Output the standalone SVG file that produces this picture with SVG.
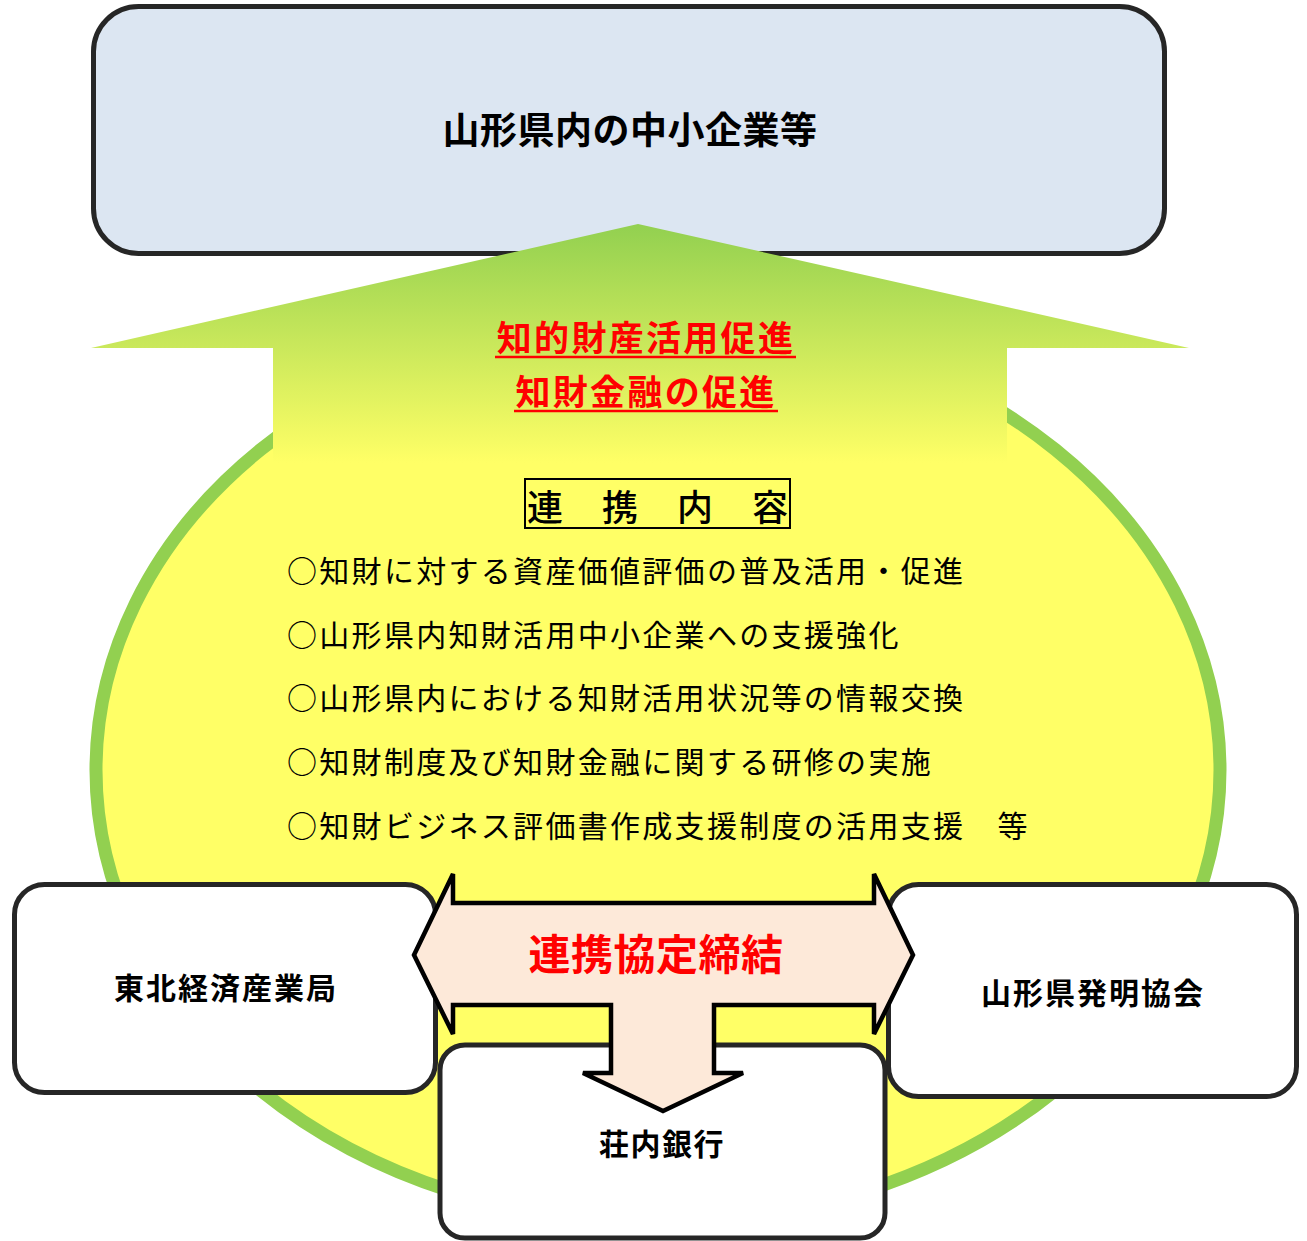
<svg xmlns="http://www.w3.org/2000/svg" width="1307" height="1241" viewBox="0 0 1307 1241">
<style>
.box{fill:#FFFFFF;stroke:#262626;stroke-width:5}
.lbl{font-family:"Noto Sans CJK JP","Noto Sans CJK SC",sans-serif;font-weight:bold;fill:#000000;text-anchor:middle}
.red{font-family:"Noto Sans CJK JP","Noto Sans CJK SC",sans-serif;font-weight:bold;fill:#FF0000;text-anchor:middle}
.item{font-family:"Noto Sans CJK JP","Noto Sans CJK SC",sans-serif;font-size:30px;letter-spacing:2.3px;fill:#000000}
.arrow{fill:#FDE9D9;stroke:#000000;stroke-width:4.5;stroke-linejoin:miter}
</style>
<defs>
<linearGradient id="upg" x1="0" y1="224" x2="0" y2="470" gradientUnits="userSpaceOnUse">
<stop offset="0" stop-color="#92D050"/>
<stop offset="0.97" stop-color="#FFFF66"/>
<stop offset="1" stop-color="#FFFF66"/>
</linearGradient>
</defs>

<g id="circle">
<ellipse cx="658" cy="770" rx="562" ry="453" fill="#FFFF66" stroke="#92D050" stroke-width="13"/>
</g>

<g id="node-top">
<rect class="box" x="93.5" y="6.5" width="1071" height="247" rx="45" ry="45" style="fill:#DCE6F2"/>
<text class="lbl" x="630" y="144" font-size="37" letter-spacing="0.5">山形県内の中小企業等</text>
</g>

<g id="node-left">
<rect class="box" x="14.5" y="884.5" width="421" height="208" rx="30" ry="30"/>
<text class="lbl" x="226" y="999" font-size="30" letter-spacing="2">東北経済産業局</text>
</g>

<g id="node-right">
<rect class="box" x="888.5" y="884.5" width="408" height="212" rx="30" ry="30"/>
<text class="lbl" x="1093" y="1004" font-size="30" letter-spacing="2">山形県発明協会</text>
</g>

<g id="node-bank">
<rect class="box" x="440" y="1045" width="445" height="193" rx="25" ry="25"/>
<text class="lbl" x="662" y="1155" font-size="30" letter-spacing="1.5">荘内銀行</text>
</g>

<g id="connectors">
<polygon points="638,224 1189,348 1007,348 1007,470 273,470 273,348 91,348" fill="url(#upg)"/>
<polygon class="arrow" points="414,955 453,874 453,903 874,903 874,874 913,955 874,1034 874,1005 714,1005 714,1073 743,1073 663,1111 583,1073 611,1073 611,1005 453,1005 453,1034"/>
<text class="red" x="646" y="351" font-size="35" letter-spacing="2.3">知的財産活用促進</text>
<line x1="495" y1="357" x2="796" y2="357" stroke="#FF0000" stroke-width="2.5"/>
<text class="red" x="646" y="405" font-size="35" letter-spacing="2.3">知財金融の促進</text>
<line x1="514" y1="411" x2="778" y2="411" stroke="#FF0000" stroke-width="2.5"/>
<text class="red" x="656" y="970" font-size="42" letter-spacing="0.5">連携協定締結</text>
</g>

<g id="contents">
<rect x="525" y="479" width="265" height="49" fill="none" stroke="#000000" stroke-width="2"/>
<text x="527" y="521" font-family="Noto Sans CJK JP,Noto Sans CJK SC,sans-serif" font-size="36" font-weight="500" letter-spacing="39">連携内容</text>
<text class="item" x="287" y="582">○知財に対する資産価値評価の普及活用・促進</text>
<text class="item" x="287" y="646">○山形県内知財活用中小企業への支援強化</text>
<text class="item" x="287" y="709">○山形県内における知財活用状況等の情報交換</text>
<text class="item" x="287" y="773">○知財制度及び知財金融に関する研修の実施</text>
<text class="item" x="287" y="837">○知財ビジネス評価書作成支援制度の活用支援　等</text>
</g>
</svg>
